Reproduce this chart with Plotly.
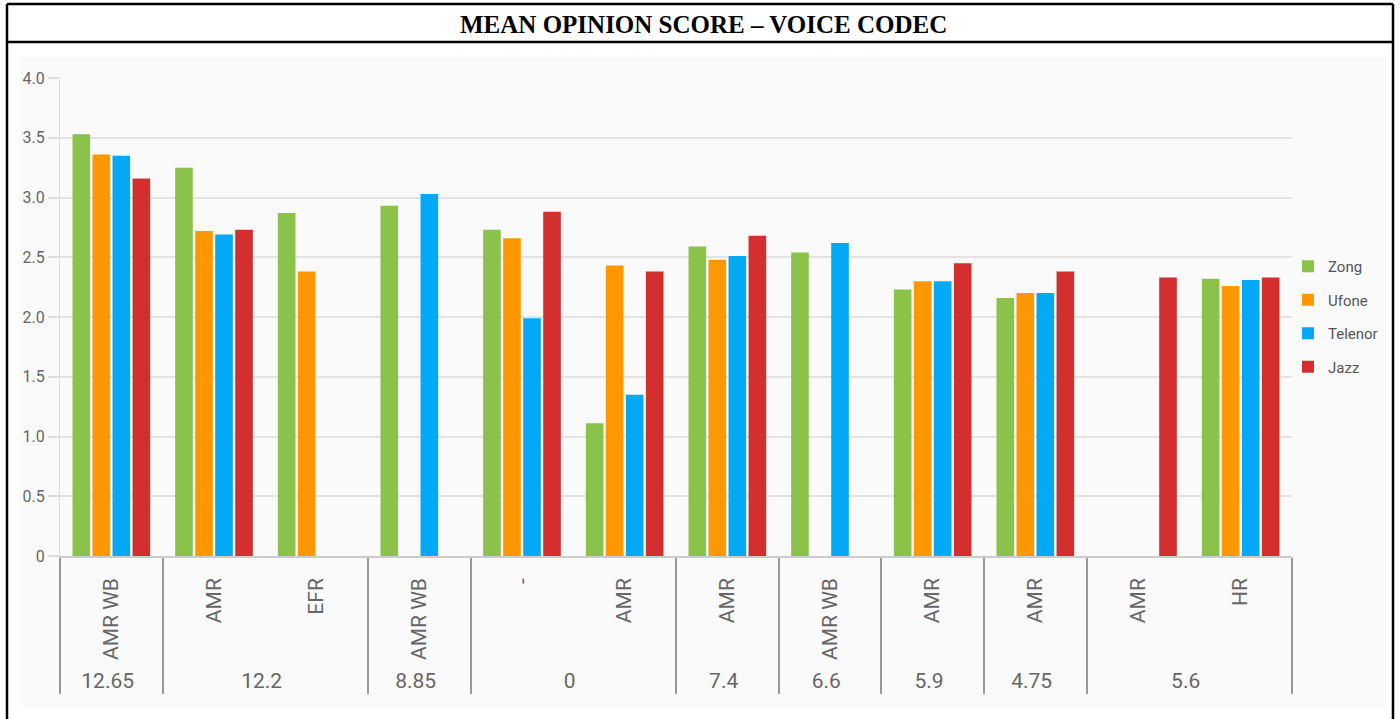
import plotly.graph_objects as go

# ---------------- data ----------------
groups = ["12.65", "12.2", "12.2", "8.85", "0", "0", "7.4", "6.6", "5.9", "4.75", "5.6", "5.6"]
# (the "0" group's AMR carries a zero-width space so that plotly keeps the "-" slot first)
codecs = ["AMR WB", "AMR", "EFR", "AMR WB", "-", "AMR\u200b", "AMR", "AMR WB", "AMR", "AMR", "AMR", "HR"]

zong    = [3.53, 3.25, 2.87, 2.93, 2.73, 1.11, 2.59, 2.54, 2.23, 2.16, None, 2.32]
ufone   = [3.36, 2.72, 2.38, None, 2.66, 2.43, 2.48, None, 2.30, 2.20, None, 2.26]
telenor = [3.35, 2.69, None, 3.03, 1.99, 1.35, 2.51, 2.62, 2.30, 2.20, None, 2.31]
jazz    = [3.16, 2.73, None, None, 2.88, 2.38, 2.68, None, 2.45, 2.38, 2.33, 2.33]

operators = ["Zong", "Ufone", "Telenor", "Jazz"]
series = [zong, ufone, telenor, jazz]
colors = ["#8BC34A", "#FF9800", "#03A9F4", "#D32F2F"]

y_tickvals = [0, 0.5, 1.0, 1.5, 2.0, 2.5, 3.0, 3.5, 4.0]
y_ticktext = ["0", "0.5", "1.0", "1.5", "2.0", "2.5", "3.0", "3.5", "4.0"]

title_text = "MEAN OPINION SCORE – VOICE CODEC"

# ---------------- layout geometry (pixels) ----------------
W, H = 1400, 719
L, R, T, B = 60, 1292, 78, 556


def px(x):
    return (x - L) / (R - L)


def py(y):
    return (B - y) / (B - T)


fig = go.Figure()
for name, vals, col in zip(operators, series, colors):
    fig.add_trace(go.Bar(
        x=[groups, codecs], y=vals, name=name,
        marker=dict(color=col, line=dict(width=0)),
        legendgroup=name,
    ))

tick_font = dict(family="Roboto, Arial, sans-serif", size=21, color="#666666")

fig.update_layout(
    width=W, height=H,
    margin=dict(l=L, r=W - R, t=T, b=H - B, pad=0),
    paper_bgcolor="white",
    plot_bgcolor="#fafafa",
    barmode="group",
    bargap=0.22,
    bargroupgap=0.12,
    showlegend=True,
    legend=dict(
        x=px(1288), y=py(250), xanchor="left", yanchor="top",
        font=dict(family="Roboto, Arial, sans-serif", size=15, color="#555555"),
        bgcolor="rgba(0,0,0,0)", tracegroupgap=11,
    ),
    xaxis=dict(
        type="multicategory",
        tickangle=-90,
        tickfont=tick_font,
        showline=True, linecolor="#cccccc", linewidth=1.5,
        showgrid=False,
        ticks="",
        ticklabelstandoff=12,
        showdividers=True, dividercolor="#999999", dividerwidth=1.5,
    ),
    yaxis=dict(
        range=[0, 4.0],
        tickvals=y_tickvals, ticktext=y_ticktext,
        tickfont=dict(family="Roboto, Arial, sans-serif", size=16, color="#666666"),
        showgrid=True, gridcolor="#e3e3e3", gridwidth=2,
        showline=True, linecolor="#dddddd", linewidth=1,
        ticks="outside", ticklen=11, tickcolor="#dddddd", tickwidth=2,
        zeroline=False,
    ),
)

# light grey chart panel behind everything
fig.add_shape(type="rect", xref="paper", yref="paper",
              x0=px(20), x1=px(1386), y0=py(708), y1=py(57),
              fillcolor="#fafafa", line=dict(width=0), layer="below")

# frame: left, right, top, title separator
frame = dict(color="black", width=2.5)
fig.add_shape(type="line", xref="paper", yref="paper", x0=px(7), x1=px(7), y0=py(722), y1=py(4), line=frame)
fig.add_shape(type="line", xref="paper", yref="paper", x0=px(1393), x1=px(1393), y0=py(722), y1=py(4), line=frame)
fig.add_shape(type="line", xref="paper", yref="paper", x0=px(7), x1=px(1393), y0=py(4), y1=py(4), line=frame)
fig.add_shape(type="line", xref="paper", yref="paper", x0=px(7), x1=px(1393), y0=py(42), y1=py(42), line=frame)

fig.add_annotation(
    text="<b>" + title_text + "</b>", xref="paper", yref="paper",
    x=px(703), y=py(24), xanchor="center", yanchor="middle", showarrow=False,
    font=dict(family="Liberation Serif, DejaVu Serif, serif", size=25, color="black"),
)

fig.write_html("out.html", config={"displayModeBar": False},
               post_script="document.body.style.margin='0';")
